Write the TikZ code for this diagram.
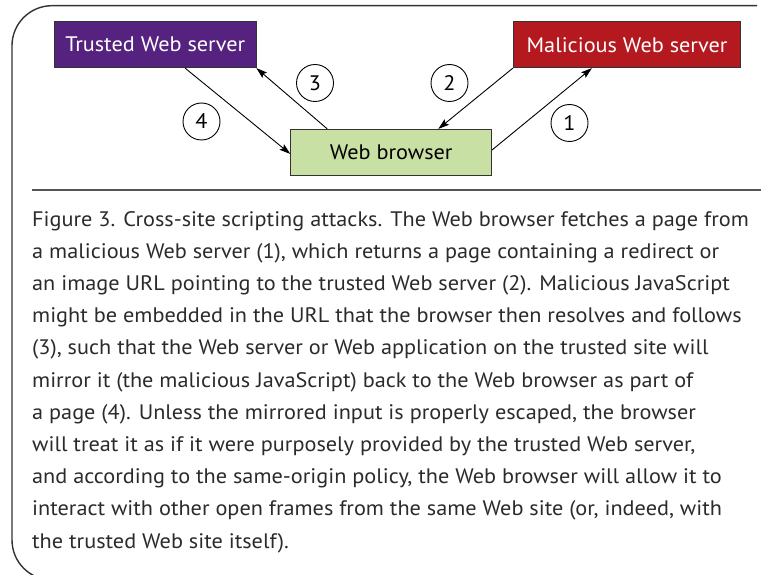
\documentclass[tikz,border=0pt]{standalone}
\usepackage{fontspec}
\setmainfont{PT Sans}[FakeStretch=1.06]
\usetikzlibrary{arrows.meta,calc}
\definecolor{trustedc}{HTML}{55237F}
\definecolor{maliciousc}{HTML}{B3191F}
\definecolor{browserc}{HTML}{C9E0A5}
\definecolor{framec}{HTML}{333333}
\definecolor{rulec}{HTML}{555555}
\definecolor{textc}{HTML}{2B2B2B}
\tikzset{
  box/.style={draw=black!80, line width=0.8pt, rectangle, inner sep=0pt,
    font=\fontsize{21}{24}\selectfont},
  numcirc/.style={draw=black, line width=0.9pt, circle, minimum size=37pt, inner sep=0pt,
    font=\fontsize{21}{24}\selectfont},
  arr/.style={draw=black, line width=0.9pt, -{Stealth[length=11pt,width=7pt,inset=2pt]}},
  capline/.style={anchor=base west, inner sep=0pt, text=textc,
    font=\fontsize{21}{24}\selectfont},
  framepath/.style={draw=framec, line width=1.4pt},
}
\begin{document}
\begin{tikzpicture}[x=1pt,y=-1pt]
\useasboundingbox (0,0) rectangle (761,575);
\fill[white] (0,0) rectangle (761,575);
\begin{scope}
\clip (0,0) rectangle (761,575);
\draw[framepath, rounded corners=40pt] (757,5.7) -- (12,5.7) -- (12,580) -- (120,580);
\end{scope}

\node[box, fill=trustedc, text=white, minimum width=201.5pt, minimum height=46pt] (trusted) at (155.2,44.7) {Trusted Web server};
\node[box, fill=maliciousc, text=white, minimum width=227.4pt, minimum height=46pt] (malicious) at (627,44.7) {Malicious Web server};
\node[box, fill=browserc, text=black, minimum width=201pt, minimum height=45.7pt] (browser) at (391.2,152.2) {Web browser};

\node[numcirc] (c3) at (315,83) {3};
\node[numcirc] (c2) at (449.5,83) {2};
\node[numcirc] (c4) at (201.5,121.5) {4};
\node[numcirc] (c1) at (569.5,123) {1};

\draw[arr] ([xshift=131pt]trusted.south west) -- ([yshift=-25pt]browser.north west);
\draw[arr] ([xshift=37pt]browser.north west) -- (trusted.south east);
\draw[arr] (malicious.south west) -- ([xshift=148pt]browser.north west);
\draw[arr] ([yshift=-21pt]browser.north east) -- ([xshift=79pt]malicious.south west);

\coordinate (rulel) at (32,190);
\coordinate (ruler) at (761,190);
\draw[draw=rulec, line width=1.8pt] (rulel) -- (ruler);

\node[capline] (l1) at (32,226) {Figure 3. Cross-site scripting attacks. The Web browser fetches a page from};
\node[capline] (l2) at (32,258.2) {a malicious Web server (1), which returns a page containing a redirect or};
\node[capline] (l3) at (32,290.4) {an image URL pointing to the trusted Web server (2). Malicious JavaScript};
\node[capline] (l4) at (32,322.6) {might be embedded in the URL that the browser then resolves and follows};
\node[capline] (l5) at (32,354.8) {(3), such that the Web server or Web application on the trusted site will};
\node[capline] (l6) at (32,387) {mirror it (the malicious JavaScript) back to the Web browser as part of};
\node[capline] (l7) at (32,419.2) {a page (4). Unless the mirrored input is properly escaped, the browser};
\node[capline] (l8) at (32,451.4) {will treat it as if it were purposely provided by the trusted Web server,};
\node[capline] (l9) at (32,483.6) {and according to the same-origin policy, the Web browser will allow it to};
\node[capline] (l10) at (32,515.8) {interact with other open frames from the same Web site (or, indeed, with};
\node[capline] (l11) at (32,548) {the trusted Web site itself).};
\end{tikzpicture}
\end{document}
